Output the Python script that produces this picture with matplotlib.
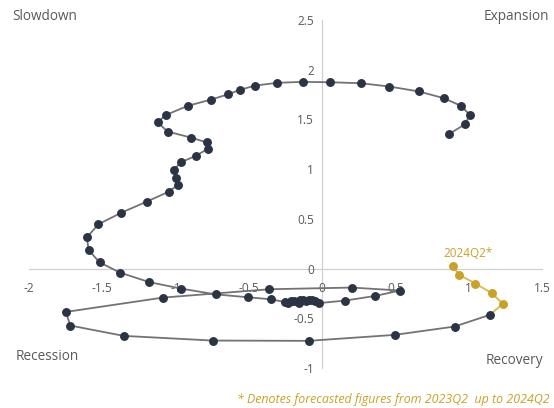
import matplotlib
matplotlib.use("Agg")
import matplotlib.pyplot as plt

# Historical path (x: level/gap, y: momentum)
hist_x = [0.868, 0.975, 1.008, 0.946, 0.832, 0.660, 0.459, 0.264, 0.055, -0.134,
          -0.307, -0.457, -0.559, -0.639, -0.757, -0.916, -1.064, -1.123, -1.055, -0.896,
          -0.786, -0.780, -0.862, -0.964, -1.014, -0.996, -0.984, -1.048, -1.196, -1.373,
          -1.526, -1.605, -1.594, -1.519, -1.380, -1.180, -0.965, -0.723, -0.503, -0.350,
          -0.252, -0.232, -0.211, -0.191, -0.157, -0.150, -0.130, -0.109, -0.089, -0.068,
          -0.048, -0.020, 0.157, 0.362, 0.532, 0.203, -0.362, -1.087, -1.748, -1.719,
          -1.353, -0.748, -0.093, 0.494, 0.904, 1.143]
hist_y = [1.355, 1.452, 1.546, 1.637, 1.713, 1.781, 1.831, 1.864, 1.874, 1.878,
          1.868, 1.841, 1.798, 1.754, 1.700, 1.637, 1.546, 1.472, 1.378, 1.318,
          1.268, 1.204, 1.134, 1.069, 0.989, 0.915, 0.842, 0.772, 0.674, 0.560,
          0.446, 0.315, 0.188, 0.063, -0.040, -0.136, -0.201, -0.260, -0.289, -0.309,
          -0.337, -0.347, -0.327, -0.322, -0.342, -0.317, -0.312, -0.322, -0.312, -0.317,
          -0.327, -0.347, -0.322, -0.275, -0.221, -0.191, -0.208, -0.292, -0.436, -0.573,
          -0.677, -0.724, -0.727, -0.667, -0.583, -0.466]

# Forecast path 2023Q2 .. 2024Q2
fc_x = [1.233, 1.158, 1.046, 0.935, 0.892]
fc_y = [-0.355, -0.248, -0.151, -0.063, 0.027]
fc_label = "2024Q2*"

x_ticks = [-2, -1.5, -1, -0.5, 0, 0.5, 1, 1.5]
x_tick_labels = ["-2", "-1.5", "-1", "-0.5", "0", "0.5", "1", "1.5"]
y_ticks = [-1, -0.5, 0, 0.5, 1, 1.5, 2, 2.5]
y_tick_labels = ["-1", "-0.5", "0", "0.5", "1", "1.5", "2", "2.5"]

quadrants = ["Slowdown", "Expansion", "Recession", "Recovery"]
footnote = "* Denotes forecasted figures from 2023Q2  up to 2024Q2"

plt.rcParams['font.family'] = ['Open Sans', 'DejaVu Sans']

W, H = 554, 408
fig = plt.figure(figsize=(W / 100, H / 100), dpi=100)
ax = fig.add_axes([29 / W, 1 - 368 / H, (542 - 29) / W, (368 - 20) / H])
ax.set_xlim(-2, 1.5)
ax.set_ylim(-1, 2.5)

navy = '#2B3445'
line_gray = '#737373'
gold = '#C9A227'
gold_line = '#D9B84A'
txt = '#595959'
axis_col = '#D0D0D0'

# connecting segment from last actual to first forecast in gold
ax.plot([hist_x[-1]] + fc_x, [hist_y[-1]] + fc_y, color=gold_line, lw=1.3, zorder=3)
ax.plot(fc_x, fc_y, 'o', color=gold, ms=5.4, zorder=4)
ax.plot(hist_x, hist_y, color=line_gray, lw=1.3, zorder=3)
ax.plot(hist_x, hist_y, 'o', color=navy, ms=5.4, zorder=4)

ax.annotate(fc_label, (fc_x[-1], fc_y[-1]), xytext=(11, 9), textcoords='offset points',
            ha='center', va='center', color=gold, fontsize=8.4)

for s in ['top', 'right']:
    ax.spines[s].set_visible(False)
ax.spines['left'].set_position(('data', 0))
ax.spines['bottom'].set_position(('data', 0))
for s in ['left', 'bottom']:
    ax.spines[s].set_color(axis_col)
    ax.spines[s].set_linewidth(0.9)
    ax.spines[s].set_zorder(0.5)
ax.set_axisbelow(True)

ax.set_xticks(x_ticks)
ax.set_xticklabels(x_tick_labels)
ax.set_yticks(y_ticks)
ax.set_yticklabels(y_tick_labels)
ax.tick_params(axis='x', length=0, pad=10, labelsize=8.6, colors=txt)
ax.tick_params(axis='y', length=0, pad=6, labelsize=8.6, colors=txt)
ax.patch.set_visible(False)

def ftext(px, py, s, **kw):
    fig.text(px / W, 1 - py / H, s, **kw)

ftext(12, 17, quadrants[0], ha='left', va='center', fontsize=9.8, color=txt)
ftext(549, 17, quadrants[1], ha='right', va='center', fontsize=9.8, color=txt)
ftext(16, 357, quadrants[2], ha='left', va='center', fontsize=9.8, color=txt)
ftext(543, 360, quadrants[3], ha='right', va='center', fontsize=9.8, color=txt)
ftext(550, 399, footnote, ha='right', va='center', fontsize=8.9, color=gold, style='italic')

fig.savefig('out.png', dpi=100)
